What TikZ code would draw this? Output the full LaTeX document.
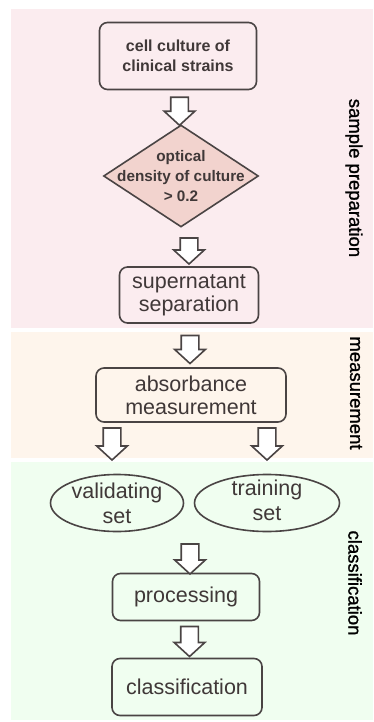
\documentclass[tikz,border=0pt]{standalone}
\usepackage{fontspec}
\setmainfont{Liberation Sans}
\newfontfamily\sidefont{Liberation Sans}[FakeBold=1.2]
\usetikzlibrary{shapes.geometric,shapes.arrows,calc}
\definecolor{prepbg}{HTML}{FBECEF}
\definecolor{measbg}{HTML}{FEF5EC}
\definecolor{classbg}{HTML}{F0FEF0}
\definecolor{odfill}{HTML}{F2D3CE}
\definecolor{edge}{HTML}{4A4444}
\definecolor{txt}{HTML}{403838}

\begin{document}
\begin{tikzpicture}[x=1pt,y=-1pt,
        box/.style={draw=edge, line width=1.6pt, rounded corners=8pt, text=txt, align=center, inner sep=0pt, font=\fontsize{21.5}{23}\selectfont},
        oval/.style={ellipse, draw=edge, line width=1.6pt, inner sep=0pt},
        dec/.style={diamond, draw=edge, fill=odfill, line width=1.6pt, inner sep=0pt},
        inside/.style={text=txt, align=center, font=\fontsize{21.5}{25}\selectfont},
        blockarrow/.style={single arrow, draw=edge, fill=white, line width=1.6pt, rotate=-90, inner xsep=0pt, inner ysep=8pt, single arrow head extend=6.5pt, single arrow tip angle=95, minimum height=#1},
        blockarrow/.default=28,
        side/.style={rotate=-90, text=black, font=\sidefont\fontsize{18.5}{20}\selectfont}]
            \useasboundingbox (0,0) rectangle (373,722);
            % bands
            \fill[prepbg] (11,9) rectangle (373,328);
            \fill[measbg] (11,332) rectangle (373,458);
            \fill[classbg] (11,462) rectangle (373,720);
            \node[side] (Prep) at (354,178) {sample preparation};
            \node[side] (Meas) at (356,393) {measurement};
            \node[side] (Class) at (355,583) {classification};
            % sample preparation
            \node[box, minimum width=157, minimum height=67, font=\bfseries\fontsize{16}{20}\selectfont] (Cult) at (178,56) {cell culture of\\clinical strains};
            \node[dec, minimum width=155, minimum height=102,
                label={[inside, font=\bfseries\fontsize{15.3}{20}\selectfont]center:optical\\density of culture\\> 0.2}] (OD) at (181,176) {};
            \node[box, minimum width=139, minimum height=56] (Sup) at (189,295) {supernatant\\separation};
            \node[blockarrow] (Arr0) at ($(Cult.south)!0.5!(OD.north)$) {};
            \node[blockarrow=26] (Arr1) at ($(OD.south)!0.5!(Sup.north)+(4,0)$) {};
            % measurement
            \node[box, minimum width=190, minimum height=54] (Abs) at (191,395) {absorbance\\measurement};
            \node[blockarrow] (Arr2) at ($(Sup.south)!0.5!(Abs.north)$) {};
            \node[blockarrow=32] (Arr3) at (112,440) {};
            \node[blockarrow=32] (Arr4) at (267,440) {};
            % classification
            \node[oval, minimum width=133, minimum height=57, label={[inside]center:validating\\set}] (Val) at (117,503) {};
            \node[oval, minimum width=145, minimum height=57, label={[inside, yshift=3]center:training\\set}] (Train) at (267,503) {};
            \node[box, minimum width=147, minimum height=47] (Proc) at (186,597) {processing};
            \node[box, minimum width=150, minimum height=57] (Cls) at (187,687) {classification};
            \node[blockarrow=30] (Arr5) at (190,555) {};
            \node[blockarrow=30] (Arr6) at ($(Proc.south)!0.5!(Cls.north)+(3,-2)$) {};
        \end{tikzpicture}
\end{document}
